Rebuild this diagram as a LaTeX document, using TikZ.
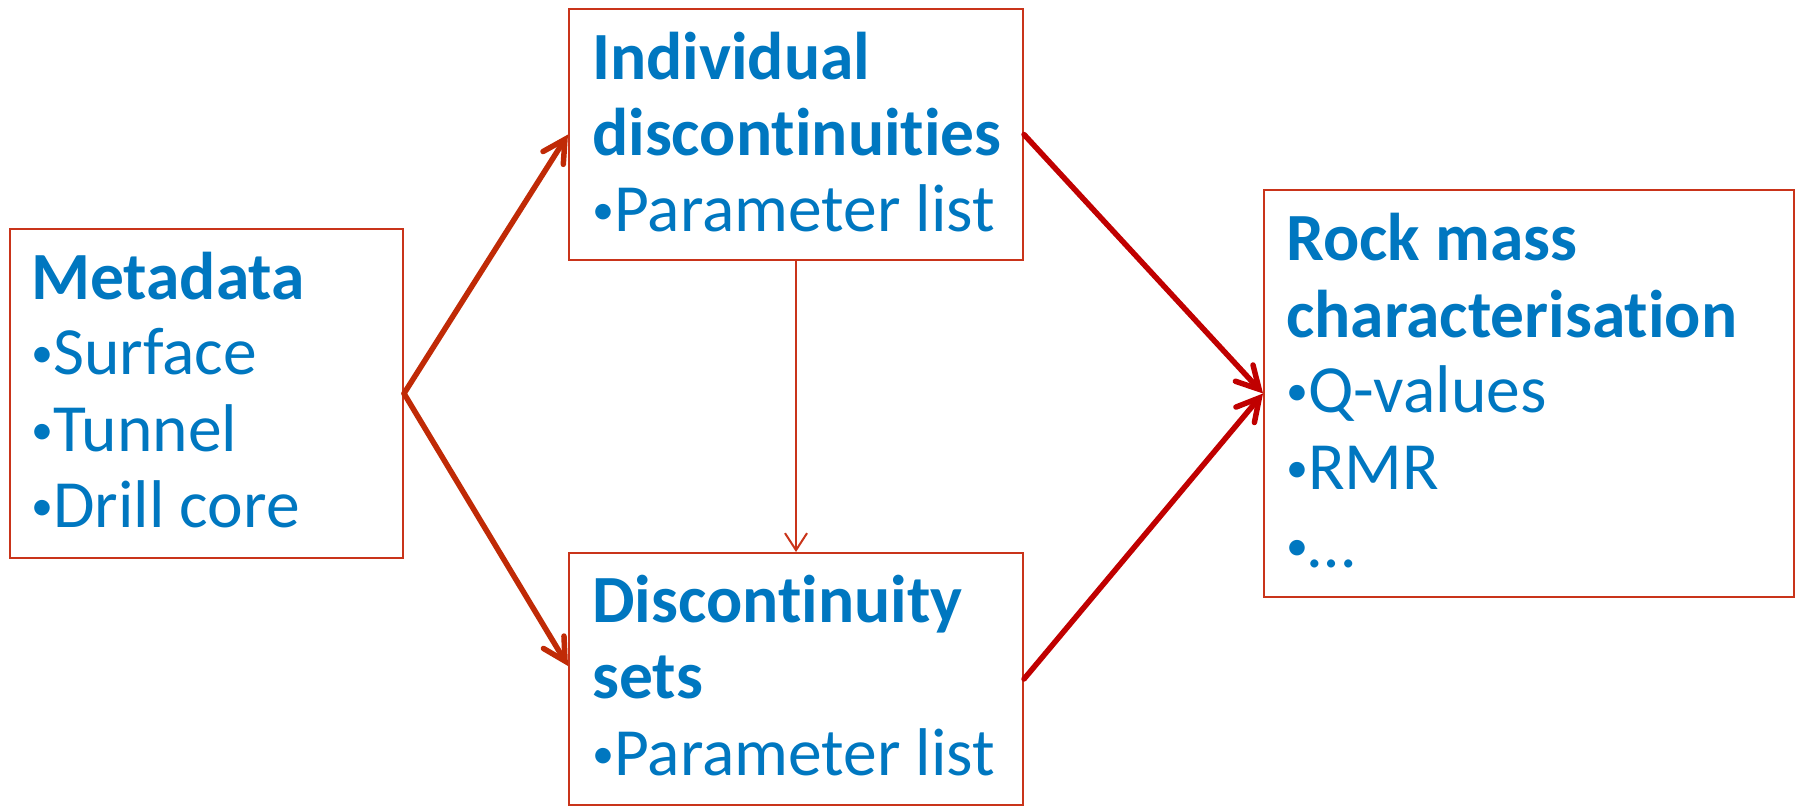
\documentclass[tikz,border=0pt]{standalone}
\usepackage{fontspec}
\setmainfont{Carlito}[Ligatures=NoCommon]
\usetikzlibrary{arrows.meta}

\definecolor{boxred}{HTML}{C9341A}
\definecolor{arrowred}{HTML}{C02A06}
\definecolor{darkred}{HTML}{C00000}
\definecolor{textblue}{HTML}{0077C0}

% small list bullet followed by a fixed gap
\newcommand\listdot{\makebox[22pt][l]{\raisebox{6.5pt}{\fontsize{44pt}{44pt}\selectfont •}}}

\tikzset{
  box/.style={draw=boxred, line width=2pt, inner sep=0pt, fill=none},
  head/.style={anchor=base west, inner sep=0pt, text=textblue,
    font=\fontsize{67.5pt}{76pt}\selectfont\bfseries},
  item/.style={anchor=base west, inner sep=0pt, text=textblue,
    font=\fontsize{67.5pt}{76pt}\selectfont},
  flowl/.style={draw=arrowred, line width=5.5pt, line cap=round,
    -{Straight Barb[length=22pt,width=24pt,line cap=round]}},
  flowr/.style={draw=darkred, line width=5.5pt, line cap=round,
    -{Straight Barb[length=22pt,width=24pt,line cap=round]}},
  thinflow/.style={draw=boxred, line width=2pt,
    -{Straight Barb[length=17pt,width=22pt]}}
}

\begin{document}
\begin{tikzpicture}[x=1pt, y=-1pt]
\useasboundingbox (0,0) rectangle (1799,806);

% boxes
\node[box, minimum width=393pt, minimum height=329pt] (meta) at (206.5,393.5) {};
\node[box, minimum width=454pt, minimum height=251pt] (indiv) at (796,134.5) {};
\node[box, minimum width=454pt, minimum height=252pt] (sets) at (796,679) {};
\node[box, minimum width=530pt, minimum height=407pt] (rock) at (1529,393.5) {};

% box contents
\node[head] (metaT) at (31,299) {Metadata};
\node[item] (metaA) at (31,374) {\listdot Surface};
\node[item] (metaB) at (31,451) {\listdot Tunnel};
\node[item] (metaC) at (31,527) {\listdot Drill core};

\node[head] (indivT1) at (592,79) {Individual};
\node[head] (indivT2) at (592,155) {discontinuities};
\node[item] (indivA) at (592,231) {\listdot Parameter list};

\node[head] (setsT1) at (592,622) {Discontinuity};
\node[head] (setsT2) at (592,698) {sets};
\node[item] (setsA) at (592,775) {\listdot Parameter list};

\node[head] (rockT1) at (1286,260) {Rock mass};
\node[head] (rockT2) at (1286,337) {characterisation};
\node[item] (rockA) at (1286,412) {\listdot Q-values};
\node[item] (rockB) at (1286,489) {\listdot RMR};
\node[item] (rockC) at (1286,567) {\listdot …};

% connectors
\draw[flowl] (meta.east) -- (indiv.west);
\draw[flowl] (meta.east) -- ([yshift=13pt]sets.west);
\draw[flowr] (indiv.east) -- (rock.west);
\draw[flowr] (sets.east) -- (rock.west);
\draw[thinflow] (indiv.south) -- (sets.north);
\end{tikzpicture}
\end{document}
